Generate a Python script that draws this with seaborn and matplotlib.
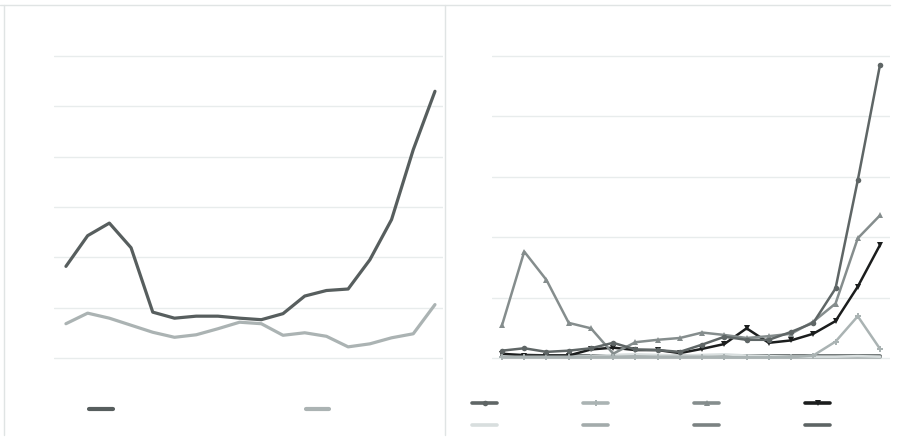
import pandas as pd
import matplotlib.pyplot as plt
import seaborn as sns
from matplotlib.lines import Line2D

sns.set_theme(style="white")
plt.rcParams['font.family'] = ['DejaVu Sans']

# ---- data ----
periods = list(range(1, 19))

left_a = [1.82, 2.43, 2.68, 2.19, 0.91, 0.79, 0.83, 0.83, 0.79, 0.76, 0.88, 1.23, 1.34, 1.37, 1.95, 2.75, 4.14, 5.30]
left_b = [0.68, 0.89, 0.79, 0.65, 0.51, 0.41, 0.46, 0.58, 0.71, 0.68, 0.45, 0.50, 0.43, 0.22, 0.28, 0.40, 0.48, 1.06]

r1 = [0.12, 0.16, 0.10, 0.12, 0.16, 0.25, 0.14, 0.13, 0.10, 0.22, 0.35, 0.30, 0.30, 0.43, 0.58, 1.15, 2.94, 4.85]
r2 = [0.02, 0.02, 0.02, 0.02, 0.02, 0.02, 0.02, 0.02, 0.02, 0.02, 0.01, 0.01, 0.01, 0.01, 0.04, 0.27, 0.69, 0.15]
r3 = [0.54, 1.76, 1.29, 0.58, 0.49, 0.07, 0.26, 0.30, 0.33, 0.42, 0.38, 0.33, 0.36, 0.40, 0.60, 0.90, 1.98, 2.36]
r4 = [0.07, 0.04, 0.04, 0.04, 0.14, 0.17, 0.13, 0.13, 0.08, 0.15, 0.23, 0.49, 0.25, 0.29, 0.40, 0.61, 1.18, 1.87]
r5 = [0.03, 0.03, 0.02, 0.02, 0.03, 0.05, 0.06, 0.05, 0.04, 0.05, 0.06, 0.04, 0.03, 0.02, 0.02, 0.02, 0.03, 0.02]
r6 = [0.01, 0.01, 0.01, 0.01, 0.01, 0.01, 0.01, 0.01, 0.01, 0.01, 0.01, 0.01, 0.01, 0.01, 0.01, 0.01, 0.01, 0.01]
r7 = [0.03, 0.03, 0.03, 0.03, 0.03, 0.03, 0.03, 0.03, 0.03, 0.03, 0.03, 0.03, 0.03, 0.03, 0.03, 0.03, 0.03, 0.03]
r8 = [0.04, 0.04, 0.03, 0.03, 0.03, 0.03, 0.03, 0.03, 0.03, 0.03, 0.03, 0.03, 0.03, 0.03, 0.03, 0.03, 0.03, 0.03]

left_df = pd.DataFrame({"period": periods, "a": left_a, "b": left_b})
right_df = pd.DataFrame({"period": periods, "r1": r1, "r2": r2, "r3": r3, "r4": r4,
                         "r5": r5, "r6": r6, "r7": r7, "r8": r8})

fig = plt.figure(figsize=(9, 4.48), dpi=100)
W, H = 900, 448

def px_axes(x0, x1, y0, y1):
    return fig.add_axes([x0 / W, 1 - y1 / H, (x1 - x0) / W, (y1 - y0) / H])

grid_c = "#e8ecec"

# ---- left panel ----
ax1 = px_axes(54, 443, 45, 370)
sns.lineplot(data=left_df, x="period", y="a", ax=ax1, color="#575e5e", linewidth=2.3)
sns.lineplot(data=left_df, x="period", y="b", ax=ax1, color="#abb3b3", linewidth=2.3)
ax1.set_xlim(0.45, 18.37)
ax1.set_ylim(-0.24, 6.22)
ax1.set_yticks(range(0, 7))

# ---- right panel ----
ax2 = px_axes(492, 890, 45, 370)
right_styles = [
    ("r1", "#5f6666", "o", 1.8),
    ("r2", "#aab3b3", "P", 1.8),
    ("r3", "#858d8d", "^", 1.8),
    ("r4", "#1b1d1d", "v", 1.8),
    ("r5", "#d8dede", None, 1.8),
    ("r6", "#a3abab", None, 1.8),
    ("r7", "#7b8282", None, 2.2),
    ("r8", "#5d6464", None, 2.8),
]
handles = {}
for col, c, m, lw in right_styles[::-1]:
    sns.lineplot(data=right_df, x="period", y=col, ax=ax2, color=c, linewidth=lw,
                 marker=m, markersize=4, markeredgewidth=0)
    handles[col] = Line2D([], [], color=c, linewidth=2.6, marker=m, markersize=4,
                          markeredgewidth=0, solid_capstyle="round")
ax2.set_xlim(0.55, 18.45)
ax2.set_ylim(-0.2, 5.18)
ax2.set_yticks(range(0, 6))

for ax in (ax1, ax2):
    ax.set_xlabel("")
    ax.set_ylabel("")
    ax.set_xticks([])
    ax.tick_params(left=False, labelleft=False)
    ax.grid(axis="y", color=grid_c, linewidth=1)
    ax.set_axisbelow(True)
    sns.despine(ax=ax, left=True, bottom=True)

# legends without label text
lh = [Line2D([], [], color="#575e5e", linewidth=3, solid_capstyle="round"),
      Line2D([], [], color="#abb3b3", linewidth=3, solid_capstyle="round")]
fig.legend(lh, ["", ""], loc="center left", bbox_to_anchor=(89 / W, 1 - 410 / H),
           ncol=2, frameon=False, handlelength=1.7, handletextpad=0,
           columnspacing=13.9, borderpad=0, borderaxespad=0, fontsize=10)

order = ["r1", "r5", "r2", "r6", "r3", "r7", "r4", "r8"]
fig.legend([handles[k] for k in order], [""] * 8, loc="center left",
           bbox_to_anchor=(472 / W, 1 - 415 / H), ncol=4, frameon=False,
           handlelength=1.8, handletextpad=0, columnspacing=6.2,
           labelspacing=0.6, borderpad=0, borderaxespad=0, fontsize=10)

# card frame lines
frame_c = "#e0e4e4"
fig.add_artist(Line2D([0, 890 / W], [1 - 5 / H, 1 - 5 / H], color=frame_c, linewidth=1))
fig.add_artist(Line2D([4 / W, 4 / W], [1 - 5 / H, 1 - 435 / H], color=frame_c, linewidth=1))
fig.add_artist(Line2D([445 / W, 445 / W], [1 - 5 / H, 1 - 435 / H], color=frame_c, linewidth=1))

fig.savefig("out.png", dpi=100)
